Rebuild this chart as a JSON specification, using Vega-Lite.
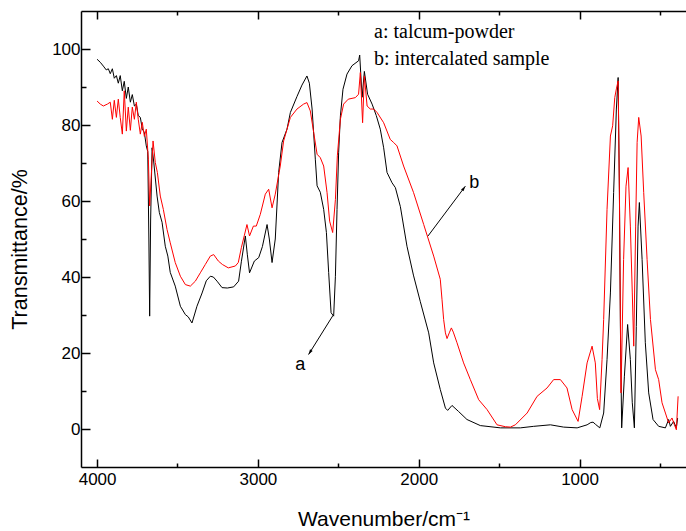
{
  "$schema": "https://vega.github.io/schema/vega-lite/v6.json",
  "width": 605,
  "height": 456,
  "autosize": "none",
  "padding": {"left": 81, "top": 11, "right": 0, "bottom": 64},
  "background": "white",
  "config": {
    "view": {"stroke": null},
    "axis": {
      "grid": false,
      "domainColor": "black",
      "domainWidth": 1.5,
      "tickColor": "black",
      "tickWidth": 1.5,
      "labelFont": "Liberation Sans",
      "labelFontSize": 17,
      "labelColor": "black",
      "titleFont": "Liberation Sans",
      "titleFontSize": 21,
      "titleFontWeight": "normal",
      "titleColor": "black"
    }
  },
  "resolve": {"axis": {"x": "independent", "y": "independent"}},
  "datasets": {
    "spectra": [
      {"s": "a", "w": 4000, "t": 97.3}, {"s": "a", "w": 3980, "t": 96.5}, {"s": "a", "w": 3961, "t": 95.5}, {"s": "a", "w": 3943, "t": 94.5}, {"s": "a", "w": 3930, "t": 94.8}, {"s": "a", "w": 3918, "t": 93.5}, {"s": "a", "w": 3905, "t": 94.8}, {"s": "a", "w": 3893, "t": 92.3}, {"s": "a", "w": 3880, "t": 93}, {"s": "a", "w": 3868, "t": 91}, {"s": "a", "w": 3856, "t": 93}, {"s": "a", "w": 3843, "t": 89}, {"s": "a", "w": 3831, "t": 91.5}, {"s": "a", "w": 3818, "t": 87}, {"s": "a", "w": 3806, "t": 90}, {"s": "a", "w": 3793, "t": 86}, {"s": "a", "w": 3781, "t": 88}, {"s": "a", "w": 3768, "t": 85}, {"s": "a", "w": 3756, "t": 85.5}, {"s": "a", "w": 3744, "t": 82.5}, {"s": "a", "w": 3731, "t": 82}, {"s": "a", "w": 3719, "t": 79}, {"s": "a", "w": 3706, "t": 78}, {"s": "a", "w": 3694, "t": 74.5}, {"s": "a", "w": 3685, "t": 73}, {"s": "a", "w": 3678, "t": 50}, {"s": "a", "w": 3673, "t": 29.7}, {"s": "a", "w": 3667, "t": 55}, {"s": "a", "w": 3658, "t": 74}, {"s": "a", "w": 3647, "t": 70}, {"s": "a", "w": 3627, "t": 61.3}, {"s": "a", "w": 3613, "t": 57}, {"s": "a", "w": 3596, "t": 54.4}, {"s": "a", "w": 3576, "t": 48.1}, {"s": "a", "w": 3560, "t": 45.5}, {"s": "a", "w": 3545, "t": 41.2}, {"s": "a", "w": 3514, "t": 37.6}, {"s": "a", "w": 3482, "t": 32.3}, {"s": "a", "w": 3451, "t": 30.1}, {"s": "a", "w": 3433, "t": 29.5}, {"s": "a", "w": 3410, "t": 27.9}, {"s": "a", "w": 3395, "t": 30}, {"s": "a", "w": 3379, "t": 32.3}, {"s": "a", "w": 3347, "t": 35.8}, {"s": "a", "w": 3321, "t": 39}, {"s": "a", "w": 3296, "t": 40.2}, {"s": "a", "w": 3277, "t": 40}, {"s": "a", "w": 3254, "t": 38.9}, {"s": "a", "w": 3223, "t": 37.2}, {"s": "a", "w": 3190, "t": 37.1}, {"s": "a", "w": 3151, "t": 37.4}, {"s": "a", "w": 3120, "t": 38.9}, {"s": "a", "w": 3103, "t": 44}, {"s": "a", "w": 3078, "t": 50.8}, {"s": "a", "w": 3066, "t": 46}, {"s": "a", "w": 3052, "t": 41.1}, {"s": "a", "w": 3022, "t": 44.2}, {"s": "a", "w": 2995, "t": 45.1}, {"s": "a", "w": 2972, "t": 48}, {"s": "a", "w": 2943, "t": 53.8}, {"s": "a", "w": 2929, "t": 50}, {"s": "a", "w": 2912, "t": 43.8}, {"s": "a", "w": 2892, "t": 50}, {"s": "a", "w": 2871, "t": 67.5}, {"s": "a", "w": 2850, "t": 75.4}, {"s": "a", "w": 2819, "t": 78.9}, {"s": "a", "w": 2798, "t": 83.3}, {"s": "a", "w": 2757, "t": 87.5}, {"s": "a", "w": 2726, "t": 90.5}, {"s": "a", "w": 2695, "t": 92.9}, {"s": "a", "w": 2680, "t": 91}, {"s": "a", "w": 2663, "t": 84.2}, {"s": "a", "w": 2643, "t": 71}, {"s": "a", "w": 2632, "t": 64}, {"s": "a", "w": 2612, "t": 62.3}, {"s": "a", "w": 2591, "t": 57.8}, {"s": "a", "w": 2574, "t": 51.7}, {"s": "a", "w": 2560, "t": 41.2}, {"s": "a", "w": 2545, "t": 30.6}, {"s": "a", "w": 2529, "t": 29.7}, {"s": "a", "w": 2518, "t": 40.2}, {"s": "a", "w": 2508, "t": 57.8}, {"s": "a", "w": 2498, "t": 72.7}, {"s": "a", "w": 2487, "t": 82.4}, {"s": "a", "w": 2471, "t": 89.4}, {"s": "a", "w": 2446, "t": 93.4}, {"s": "a", "w": 2415, "t": 95.6}, {"s": "a", "w": 2374, "t": 96.9}, {"s": "a", "w": 2367, "t": 98.4}, {"s": "a", "w": 2352, "t": 87.3}, {"s": "a", "w": 2338, "t": 94.1}, {"s": "a", "w": 2318, "t": 88.1}, {"s": "a", "w": 2290, "t": 85.5}, {"s": "a", "w": 2264, "t": 82.5}, {"s": "a", "w": 2239, "t": 78.9}, {"s": "a", "w": 2218, "t": 74}, {"s": "a", "w": 2197, "t": 67.5}, {"s": "a", "w": 2166, "t": 64.8}, {"s": "a", "w": 2145, "t": 63.5}, {"s": "a", "w": 2114, "t": 58.5}, {"s": "a", "w": 2073, "t": 48.1}, {"s": "a", "w": 2033, "t": 40.5}, {"s": "a", "w": 1990, "t": 33.5}, {"s": "a", "w": 1938, "t": 25.3}, {"s": "a", "w": 1907, "t": 17.4}, {"s": "a", "w": 1866, "t": 10.4}, {"s": "a", "w": 1834, "t": 5.5}, {"s": "a", "w": 1820, "t": 4.9}, {"s": "a", "w": 1793, "t": 6.2}, {"s": "a", "w": 1752, "t": 4.6}, {"s": "a", "w": 1700, "t": 2.5}, {"s": "a", "w": 1617, "t": 0.9}, {"s": "a", "w": 1492, "t": 0.3}, {"s": "a", "w": 1368, "t": 0.3}, {"s": "a", "w": 1285, "t": 0.7}, {"s": "a", "w": 1181, "t": 1.1}, {"s": "a", "w": 1099, "t": 0.5}, {"s": "a", "w": 1015, "t": 0.3}, {"s": "a", "w": 953, "t": 1.1}, {"s": "a", "w": 930, "t": 1.7}, {"s": "a", "w": 916, "t": 1.8}, {"s": "a", "w": 900, "t": 1.2}, {"s": "a", "w": 874, "t": 0.3}, {"s": "a", "w": 850, "t": 4.2}, {"s": "a", "w": 829, "t": 18.3}, {"s": "a", "w": 808, "t": 35.8}, {"s": "a", "w": 788, "t": 62.2}, {"s": "a", "w": 771, "t": 84.2}, {"s": "a", "w": 760, "t": 92.5}, {"s": "a", "w": 752, "t": 62.3}, {"s": "a", "w": 746, "t": 27}, {"s": "a", "w": 738, "t": 0.3}, {"s": "a", "w": 721, "t": 13.9}, {"s": "a", "w": 701, "t": 27.5}, {"s": "a", "w": 684, "t": 18.3}, {"s": "a", "w": 672, "t": 6.9}, {"s": "a", "w": 659, "t": 0.3}, {"s": "a", "w": 647, "t": 27}, {"s": "a", "w": 636, "t": 53.4}, {"s": "a", "w": 628, "t": 59.6}, {"s": "a", "w": 611, "t": 44.6}, {"s": "a", "w": 591, "t": 22.7}, {"s": "a", "w": 570, "t": 9.5}, {"s": "a", "w": 543, "t": 2.5}, {"s": "a", "w": 508, "t": 0.7}, {"s": "a", "w": 466, "t": 0.3}, {"s": "a", "w": 446, "t": 2.5}, {"s": "a", "w": 435, "t": 0.7}, {"s": "a", "w": 415, "t": 2}, {"s": "a", "w": 398, "t": 0.3}, {"s": "a", "w": 390, "t": 2.9},
      {"s": "b", "w": 4000, "t": 86.3}, {"s": "b", "w": 3980, "t": 85.5}, {"s": "b", "w": 3961, "t": 85}, {"s": "b", "w": 3936, "t": 85.5}, {"s": "b", "w": 3918, "t": 86}, {"s": "b", "w": 3905, "t": 81.5}, {"s": "b", "w": 3893, "t": 86.5}, {"s": "b", "w": 3880, "t": 82}, {"s": "b", "w": 3868, "t": 86.8}, {"s": "b", "w": 3856, "t": 82}, {"s": "b", "w": 3843, "t": 77.6}, {"s": "b", "w": 3831, "t": 89}, {"s": "b", "w": 3818, "t": 78.4}, {"s": "b", "w": 3806, "t": 84.7}, {"s": "b", "w": 3793, "t": 78.6}, {"s": "b", "w": 3781, "t": 84.7}, {"s": "b", "w": 3768, "t": 81.5}, {"s": "b", "w": 3756, "t": 86}, {"s": "b", "w": 3744, "t": 81.5}, {"s": "b", "w": 3731, "t": 77.6}, {"s": "b", "w": 3719, "t": 80.7}, {"s": "b", "w": 3706, "t": 77}, {"s": "b", "w": 3694, "t": 78.9}, {"s": "b", "w": 3681, "t": 71}, {"s": "b", "w": 3673, "t": 58.7}, {"s": "b", "w": 3665, "t": 65}, {"s": "b", "w": 3652, "t": 75.8}, {"s": "b", "w": 3638, "t": 70.1}, {"s": "b", "w": 3625, "t": 67.5}, {"s": "b", "w": 3607, "t": 61.3}, {"s": "b", "w": 3588, "t": 57.8}, {"s": "b", "w": 3565, "t": 52.5}, {"s": "b", "w": 3545, "t": 49}, {"s": "b", "w": 3514, "t": 43.8}, {"s": "b", "w": 3482, "t": 40.2}, {"s": "b", "w": 3451, "t": 38}, {"s": "b", "w": 3420, "t": 37.6}, {"s": "b", "w": 3389, "t": 38.9}, {"s": "b", "w": 3358, "t": 41.1}, {"s": "b", "w": 3327, "t": 43.3}, {"s": "b", "w": 3296, "t": 45.5}, {"s": "b", "w": 3275, "t": 45.9}, {"s": "b", "w": 3246, "t": 44.2}, {"s": "b", "w": 3221, "t": 43.3}, {"s": "b", "w": 3184, "t": 42.4}, {"s": "b", "w": 3140, "t": 42.9}, {"s": "b", "w": 3122, "t": 43.8}, {"s": "b", "w": 3103, "t": 47.7}, {"s": "b", "w": 3084, "t": 51}, {"s": "b", "w": 3068, "t": 53.8}, {"s": "b", "w": 3052, "t": 50.8}, {"s": "b", "w": 3028, "t": 53.4}, {"s": "b", "w": 3010, "t": 53.4}, {"s": "b", "w": 2985, "t": 56.5}, {"s": "b", "w": 2954, "t": 61.8}, {"s": "b", "w": 2933, "t": 63.1}, {"s": "b", "w": 2912, "t": 58.2}, {"s": "b", "w": 2892, "t": 61.8}, {"s": "b", "w": 2861, "t": 69.2}, {"s": "b", "w": 2840, "t": 75.8}, {"s": "b", "w": 2819, "t": 78.9}, {"s": "b", "w": 2798, "t": 82}, {"s": "b", "w": 2757, "t": 84.2}, {"s": "b", "w": 2716, "t": 85.5}, {"s": "b", "w": 2695, "t": 85.9}, {"s": "b", "w": 2674, "t": 83.7}, {"s": "b", "w": 2653, "t": 78}, {"s": "b", "w": 2632, "t": 72.3}, {"s": "b", "w": 2612, "t": 71.4}, {"s": "b", "w": 2591, "t": 69.2}, {"s": "b", "w": 2570, "t": 62.2}, {"s": "b", "w": 2554, "t": 54.7}, {"s": "b", "w": 2535, "t": 51.7}, {"s": "b", "w": 2518, "t": 60.4}, {"s": "b", "w": 2506, "t": 71.9}, {"s": "b", "w": 2487, "t": 81.5}, {"s": "b", "w": 2467, "t": 85.5}, {"s": "b", "w": 2438, "t": 86.8}, {"s": "b", "w": 2394, "t": 87.2}, {"s": "b", "w": 2374, "t": 88.1}, {"s": "b", "w": 2363, "t": 93.8}, {"s": "b", "w": 2349, "t": 80.6}, {"s": "b", "w": 2338, "t": 92.9}, {"s": "b", "w": 2321, "t": 85}, {"s": "b", "w": 2301, "t": 84.2}, {"s": "b", "w": 2280, "t": 84.2}, {"s": "b", "w": 2259, "t": 83.3}, {"s": "b", "w": 2218, "t": 80.6}, {"s": "b", "w": 2177, "t": 76.2}, {"s": "b", "w": 2156, "t": 75.4}, {"s": "b", "w": 2135, "t": 74.5}, {"s": "b", "w": 2094, "t": 69.2}, {"s": "b", "w": 2032, "t": 62.2}, {"s": "b", "w": 1969, "t": 53.8}, {"s": "b", "w": 1907, "t": 45.5}, {"s": "b", "w": 1866, "t": 39.4}, {"s": "b", "w": 1855, "t": 34}, {"s": "b", "w": 1845, "t": 28.8}, {"s": "b", "w": 1834, "t": 25.3}, {"s": "b", "w": 1824, "t": 23.8}, {"s": "b", "w": 1810, "t": 25.3}, {"s": "b", "w": 1797, "t": 26.6}, {"s": "b", "w": 1785, "t": 25.5}, {"s": "b", "w": 1762, "t": 22.7}, {"s": "b", "w": 1721, "t": 17.4}, {"s": "b", "w": 1679, "t": 13}, {"s": "b", "w": 1627, "t": 7.7}, {"s": "b", "w": 1575, "t": 5.1}, {"s": "b", "w": 1513, "t": 1.1}, {"s": "b", "w": 1461, "t": 0.6}, {"s": "b", "w": 1430, "t": 0.5}, {"s": "b", "w": 1399, "t": 1.1}, {"s": "b", "w": 1326, "t": 4.2}, {"s": "b", "w": 1264, "t": 8.6}, {"s": "b", "w": 1202, "t": 10.8}, {"s": "b", "w": 1161, "t": 13}, {"s": "b", "w": 1119, "t": 13}, {"s": "b", "w": 1078, "t": 10.8}, {"s": "b", "w": 1046, "t": 5.1}, {"s": "b", "w": 1009, "t": 2}, {"s": "b", "w": 984, "t": 8.6}, {"s": "b", "w": 953, "t": 17.4}, {"s": "b", "w": 922, "t": 21.8}, {"s": "b", "w": 902, "t": 17.4}, {"s": "b", "w": 889, "t": 8}, {"s": "b", "w": 875, "t": 5.1}, {"s": "b", "w": 860, "t": 18.3}, {"s": "b", "w": 850, "t": 28.8}, {"s": "b", "w": 829, "t": 57.8}, {"s": "b", "w": 808, "t": 77.1}, {"s": "b", "w": 794, "t": 79.8}, {"s": "b", "w": 781, "t": 87.2}, {"s": "b", "w": 771, "t": 89.5}, {"s": "b", "w": 760, "t": 91.6}, {"s": "b", "w": 752, "t": 62.2}, {"s": "b", "w": 742, "t": 9.5}, {"s": "b", "w": 726, "t": 44.6}, {"s": "b", "w": 711, "t": 63.9}, {"s": "b", "w": 698, "t": 68.8}, {"s": "b", "w": 684, "t": 53.4}, {"s": "b", "w": 672, "t": 35.8}, {"s": "b", "w": 663, "t": 21.8}, {"s": "b", "w": 651, "t": 53.4}, {"s": "b", "w": 642, "t": 75.4}, {"s": "b", "w": 632, "t": 82}, {"s": "b", "w": 617, "t": 77.1}, {"s": "b", "w": 601, "t": 62.2}, {"s": "b", "w": 580, "t": 44.6}, {"s": "b", "w": 559, "t": 28.8}, {"s": "b", "w": 528, "t": 15.6}, {"s": "b", "w": 508, "t": 13}, {"s": "b", "w": 487, "t": 6.9}, {"s": "b", "w": 466, "t": 4.2}, {"s": "b", "w": 446, "t": 1.6}, {"s": "b", "w": 425, "t": 2.9}, {"s": "b", "w": 410, "t": 1.1}, {"s": "b", "w": 398, "t": -0.2}, {"s": "b", "w": 387, "t": 8.6}
    ],
    "legendText": [
      {"w": 2278, "t": 102.9, "label": "a: talcum-powder"},
      {"w": 2278, "t": 95.7, "label": "b: intercalated sample"}
    ],
    "letters": [
      {"w": 2736, "t": 15.6, "label": "a"},
      {"w": 1654, "t": 63.4, "label": "b"}
    ],
    "arrows": [
      {"id": "a", "w": 2533, "t": 29.9, "w2": 2685, "t2": 19.6},
      {"id": "b", "w": 1942, "t": 50.8, "w2": 1710, "t2": 63.9}
    ]
  },
  "layer": [
    {
      "data": {"name": "spectra"},
      "mark": {"type": "line", "strokeWidth": 1, "interpolate": "linear"},
      "encoding": {
        "x": {
          "field": "w", "type": "quantitative",
          "scale": {"domain": [338, 4100], "reverse": true, "nice": false, "zero": false},
          "axis": {
            "orient": "bottom",
            "title": "Wavenumber/cm⁻¹",
            "values": [4000, 3500, 3000, 2500, 2000, 1500, 1000, 500],
            "format": "d",
            "labelExpr": "datum.value % 1000 === 0 ? datum.label : ''",
            "tickSize": {"condition": {"test": "datum.value % 1000 === 0", "value": -8}, "value": -4},
            "labelPadding": 12,
            "titlePadding": 21,
            "labelFlush": false
          }
        },
        "y": {
          "field": "t", "type": "quantitative",
          "scale": {"domain": [-10, 110], "nice": false, "zero": false},
          "axis": {
            "orient": "left",
            "title": "Transmittance/%",
            "titleFontSize": 21.5,
            "values": [0, 10, 20, 30, 40, 50, 60, 70, 80, 90, 100],
            "format": "d",
            "labelExpr": "datum.value % 20 === 0 ? datum.label : ''",
            "tickSize": {"condition": {"test": "datum.value % 20 === 0", "value": -9}, "value": -5},
            "labelPadding": 10,
            "titlePadding": 20,
            "titleY": 238,
            "labelFlush": false
          }
        },
        "color": {
          "field": "s", "type": "nominal",
          "scale": {"domain": ["a", "b"], "range": ["#000000", "#ff0000"]},
          "legend": null
        }
      }
    },
    {
      "data": {"name": "legendText"},
      "mark": {"type": "text", "align": "left", "baseline": "alphabetic", "font": "Liberation Serif", "fontSize": 20, "color": "black"},
      "encoding": {
        "x": {
          "field": "w", "type": "quantitative",
          "scale": {"domain": [338, 4100], "reverse": true, "nice": false, "zero": false},
          "axis": {
            "orient": "top",
            "title": null,
            "labels": false,
            "values": [4000, 3500, 3000, 2500, 2000, 1500, 1000, 500],
            "tickSize": {"condition": {"test": "datum.value % 1000 === 0", "value": -8}, "value": -4}
          }
        },
        "y": {"field": "t", "type": "quantitative", "scale": {"domain": [-10, 110], "nice": false, "zero": false}, "axis": null},
        "text": {"field": "label"}
      }
    },
    {
      "data": {"name": "letters"},
      "mark": {"type": "text", "align": "center", "baseline": "alphabetic", "font": "Liberation Sans", "fontSize": 18, "color": "black"},
      "encoding": {
        "x": {"field": "w", "type": "quantitative", "scale": {"domain": [338, 4100], "reverse": true, "nice": false, "zero": false}, "axis": null},
        "y": {"field": "t", "type": "quantitative", "scale": {"domain": [-10, 110], "nice": false, "zero": false}, "axis": null},
        "text": {"field": "label"}
      }
    },
    {
      "data": {"name": "arrows"},
      "mark": {"type": "rule", "color": "black", "strokeWidth": 1},
      "encoding": {
        "x": {"field": "w", "type": "quantitative", "scale": {"domain": [338, 4100], "reverse": true, "nice": false, "zero": false}, "axis": null},
        "y": {"field": "t", "type": "quantitative", "scale": {"domain": [-10, 110], "nice": false, "zero": false}, "axis": null},
        "x2": {"field": "w2"},
        "y2": {"field": "t2"}
      }
    },
    {
      "data": {"name": "arrows"},
      "transform": [{"filter": "datum.id === 'a'"}],
      "mark": {"type": "point", "shape": "M0,0L0.38,1.3L-0.38,1.3Z", "filled": true, "color": "black", "size": 64, "angle": 212, "opacity": 1},
      "encoding": {
        "x": {"field": "w2", "type": "quantitative", "scale": {"domain": [338, 4100], "reverse": true, "nice": false, "zero": false}, "axis": null},
        "y": {"field": "t2", "type": "quantitative", "scale": {"domain": [-10, 110], "nice": false, "zero": false}, "axis": null}
      }
    },
    {
      "data": {"name": "arrows"},
      "transform": [{"filter": "datum.id === 'b'"}],
      "mark": {"type": "point", "shape": "M0,0L0.38,1.3L-0.38,1.3Z", "filled": true, "color": "black", "size": 64, "angle": 36.7, "opacity": 1},
      "encoding": {
        "x": {"field": "w2", "type": "quantitative", "scale": {"domain": [338, 4100], "reverse": true, "nice": false, "zero": false}, "axis": null},
        "y": {"field": "t2", "type": "quantitative", "scale": {"domain": [-10, 110], "nice": false, "zero": false}, "axis": null}
      }
    }
  ]
}
